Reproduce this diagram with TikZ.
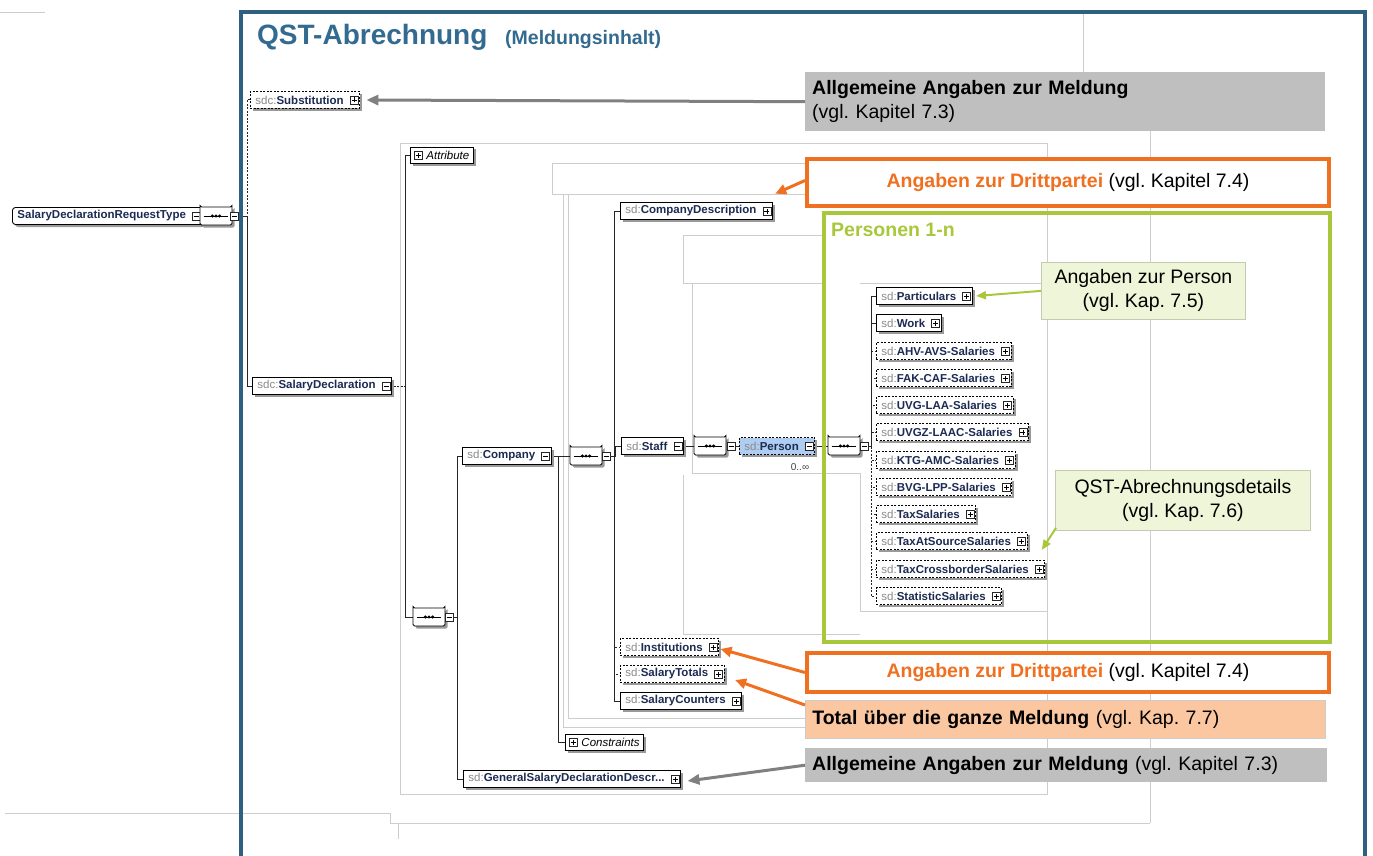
\documentclass[tikz,border=0pt]{standalone}
\usepackage{fontspec}
\setmainfont{Liberation Sans}
\usetikzlibrary{arrows.meta,shapes.misc,shadows}

\definecolor{frameblue}{HTML}{2F5F81}
\definecolor{titleblue}{HTML}{336A90}
\definecolor{orng}{HTML}{F07021}
\definecolor{lgreen}{HTML}{A9C73A}
\definecolor{notegreen}{HTML}{EEF5D8}
\definecolor{notegreenline}{HTML}{C4CBB0}
\definecolor{peach}{HTML}{FBC7A1}
\definecolor{boxgray}{HTML}{BFBFBF}
\definecolor{arrowgray}{HTML}{808080}
\definecolor{rulec}{HTML}{CDCDCD}
\definecolor{pfx}{HTML}{8A8A8A}
\definecolor{ename}{HTML}{1C2B52}
\definecolor{personfill}{HTML}{AFCDF0}

\pgfdeclarelayer{bg}
\pgfsetlayers{bg,main}
\frenchspacing

% element label: grey namespace prefix, bold local name
\newcommand\qn[2]{{\color{pfx}#1:}{\bfseries #2}}
% expand / collapse button (p = plus, m = minus)
\newcommand\xp[3]{%
  \node[xbox] (#1) at (#2) {};
  \draw[xsign] ([xshift=-2.5pt]#1.center) -- ([xshift=2.5pt]#1.center);
  \ifx p#3\draw[xsign] ([yshift=-2.5pt]#1.center) -- ([yshift=2.5pt]#1.center);\fi}
% sequence compositor symbol
\newcommand\sq[2]{%
  \node[seqbox] (#1) at (#2) {};
  \draw[line width=0.9pt] ([xshift=4pt]#1.west) -- ([xshift=-4pt]#1.east);
  \foreach \d in {-3.6,0,3.6} \fill ([xshift=\d pt]#1.center) circle (1.7pt);}

\tikzset{
  x=1pt, y=-1pt,
  shade/.style={drop shadow={shadow xshift=2.5pt, shadow yshift=-2.5pt, fill=black!40, opacity=1}},
  elem/.style={draw=black, line width=0.9pt, fill=white, anchor=west, inner xsep=5pt,
    inner ysep=0pt, minimum height=17pt, text=ename, shade,
    font=\fontsize{11.5}{13}\selectfont, execute at end node=\hspace{11pt}},
  opt/.style={elem, dash pattern=on 2pt off 1.5pt},
  grp/.style={draw=black, line width=0.9pt, fill=white, anchor=west, inner xsep=4pt,
    inner ysep=0pt, minimum height=16pt, shade, font=\fontsize{11.5}{13}\selectfont\itshape,
    execute at begin node=\hspace{12pt}},
  xbox/.style={draw=black!85, fill=white, minimum size=8pt, inner sep=0pt, line width=0.6pt},
  xsign/.style={line width=0.6pt, black},
  seqbox/.style={chamfered rectangle, chamfered rectangle xsep=4pt, draw=black, line width=0.9pt,
    fill=white, minimum width=32pt, minimum height=18pt, inner sep=0pt, rounded corners=1.5pt, shade},
  tree/.style={draw=black!85, line width=1pt},
  otree/.style={tree, dash pattern=on 2pt off 1.5pt},
  rule/.style={draw=rulec, line width=0.8pt},
  note/.style={font=\fontsize{19.5}{24}\selectfont, inner xsep=7pt, inner ysep=0pt},
  garrow/.style={draw=arrowgray, line width=3pt, -{Triangle[length=12pt,width=10pt]}},
  oarrow/.style={draw=orng, line width=3pt, -{Triangle[length=11pt,width=10pt]}},
  larrow/.style={draw=lgreen, line width=2pt, -{Triangle[length=10pt,width=8pt]}},
}

\begin{document}
\begin{tikzpicture}
\useasboundingbox (0,0) rectangle (1373,856);

% ---------- schema tree ----------
\node[elem, rounded corners=3pt, execute at end node=\hspace{5pt}] (srt) at (12,216) {\bfseries SalaryDeclarationRequestType};
\xp{srt-x}{196,216}{m}
\sq{seq0}{216,216}
\xp{seq0-x}{234,216}{m}

\node[opt] (subst) at (250,100) {\qn{sdc}{Substitution}};
\xp{subst-x}{[xshift=-6pt]subst.east}{p}
\node[elem] (sdecl) at (252,386) {\qn{sdc}{SalaryDeclaration}};
\xp{sdecl-x}{[xshift=-6pt]sdecl.east}{m}
\coordinate (bus1) at (405,386);

\node[grp] (attr) at (410,155) {Attribute};
\xp{attr-x}{[xshift=8pt]attr.west}{p}
\sq{seq1}{429,617}
\xp{seq1-x}{449,617}{m}

\node[elem] (company) at (462,456) {\qn{sd}{Company}};
\xp{company-x}{[xshift=-6pt]company.east}{m}
\node[grp] (constraints) at (565,742) {Constraints};
\xp{constraints-x}{[xshift=8pt]constraints.west}{p}
\node[elem] (gdesc) at (463,779) {\qn{sd}{GeneralSalaryDeclarationDescr...}};
\xp{gdesc-x}{[xshift=-6pt]gdesc.east}{p}

\sq{seq2}{586,456}
\xp{seq2-x}{606,456}{m}
\node[elem] (cdesc) at (620,211) {\qn{sd}{CompanyDescription}};
\xp{cdesc-x}{[xshift=-6pt]cdesc.east}{p}
\node[elem] (staff) at (621,446) {\qn{sd}{Staff}};
\xp{staff-x}{[xshift=-6pt]staff.east}{m}
\node[opt] (inst) at (620,647) {\qn{sd}{Institutions}};
\xp{inst-x}{[xshift=-6pt]inst.east}{p}
\node[opt] (totals) at (620,674) {\qn{sd}{SalaryTotals}};
\xp{totals-x}{[xshift=-6pt]totals.east}{p}
\node[elem] (counters) at (620,701) {\qn{sd}{SalaryCounters}};
\xp{counters-x}{[xshift=-6pt]counters.east}{p}

\sq{seq3}{710,446}
\xp{seq3-x}{731,446}{m}
\node[opt, fill=personfill] (person) at (739,446) {\qn{sd}{Person}};
\xp{person-x}{[xshift=-6pt]person.east}{m}
\node[font=\fontsize{10}{12}\selectfont, text=black!75] (card) at (800,467) {0..∞};
\sq{seq4}{844,446}
\xp{seq4-x}{864,446}{m}

\node[elem] (c1) at (876,296) {\qn{sd}{Particulars}};
\node[elem] (c2) at (876,323) {\qn{sd}{Work}};
\node[opt] (c3) at (876,351) {\qn{sd}{AHV-AVS-Salaries}};
\node[opt] (c4) at (876,378) {\qn{sd}{FAK-CAF-Salaries}};
\node[opt] (c5) at (876,405) {\qn{sd}{UVG-LAA-Salaries}};
\node[opt] (c6) at (876,432) {\qn{sd}{UVGZ-LAAC-Salaries}};
\node[opt] (c7) at (876,460) {\qn{sd}{KTG-AMC-Salaries}};
\node[opt] (c8) at (876,487) {\qn{sd}{BVG-LPP-Salaries}};
\node[opt] (c9) at (876,514) {\qn{sd}{TaxSalaries}};
\node[opt] (c10) at (876,541) {\qn{sd}{TaxAtSourceSalaries}};
\node[opt] (c11) at (876,569) {\qn{sd}{TaxCrossborderSalaries}};
\node[opt] (c12) at (876,596) {\qn{sd}{StatisticSalaries}};
\foreach \i in {1,...,12} {\xp{c\i-x}{[xshift=-6pt]c\i.east}{p}}

\begin{pgfonlayer}{bg}
  % faint layout rules
  \draw[rule] (0,12) -- (45,12);
  \draw[rule] (1083,11) -- (1083,72);
  \draw[rule] (400,143) rectangle (1047,794);
  \draw[rule] (552,163) rectangle (805,194);
  \draw[rule] (568,194) -- (568,718) -- (805,718);
  \draw[rule] (563,194) -- (563,727) -- (805,727);
  \draw[rule] (683,235) -- (822,235);
  \draw[rule] (683,235) -- (683,283) -- (822,283);
  \draw[rule] (692,283) -- (692,473) -- (860,473);
  \draw[rule] (683,475) -- (683,634) -- (860,634);
  \draw[rule] (860,283) -- (1047,283);
  \draw[rule] (860,473) -- (860,611) -- (1047,611);
  \draw[rule] (1150,131) -- (1150,823);
  \draw[rule] (5,813) -- (390,813) -- (390,823) -- (1150,823);
  \draw[rule] (398,823) -- (398,839);

  % tree connectors
  \draw[tree] (srt-x.east) -- (seq0.west);
  \draw[tree] (seq0-x.east) -| ([xshift=-5pt]sdecl.west) -- (sdecl.west);
  \draw[otree] (seq0-x.east) -| ([xshift=-3pt]subst.west) -- (subst.west);
  \draw[otree] (sdecl-x.east) -- (bus1);
  \draw[tree] (bus1) |- (attr.west);
  \draw[tree] (bus1) |- (seq1.west);
  \draw[tree] (seq1-x.east) -| ([xshift=-5pt]company.west) -- (company.west);
  \draw[tree] (seq1-x.east) -| ([xshift=-6pt]gdesc.west) -- (gdesc.west);
  \draw[tree] (company-x.east) -| ([xshift=-7pt]constraints.west) -- (constraints.west);
  \draw[tree] (company-x.east) -- (seq2.west);
  \foreach \c in {cdesc,staff,counters}
    \draw[tree] (seq2-x.east) -| ([xshift=-6pt]\c.west) -- (\c.west);
  \foreach \c in {inst,totals}
    \draw[otree] (seq2-x.east) -| ([xshift=-6pt]\c.west) -- (\c.west);
  \draw[tree] (staff-x.east) -- (seq3.west);
  \draw[tree] (seq3-x.east) -- (person.west);
  \draw[tree] (person-x.east) -- (seq4.west);
  \foreach \i in {1,2}
    \draw[tree] (seq4-x.east) -| ([xshift=-5pt]c\i.west) -- (c\i.west);
  \foreach \i in {3,...,12}
    \draw[otree] (seq4-x.east) -| ([xshift=-5pt]c\i.west) -- (c\i.west);
\end{pgfonlayer}

% ---------- outer frame and title ----------
\draw[frameblue, line width=4pt] (241,858) -- (241,12) -- (1365,12) -- (1365,858);
\node[anchor=base west, inner sep=0pt, text=titleblue, font=\bfseries\fontsize{28}{30}\selectfont] (title) at (257,45) {QST-Abrechnung};
\node[anchor=base west, inner sep=0pt, text=titleblue, font=\bfseries\fontsize{19.5}{22}\selectfont] (subtitle) at (505,45) {(Meldungsinhalt)};

% ---------- annotations ----------
\node[note, fill=boxgray, anchor=north west, text width=506pt, minimum height=59pt, align=left] (allg1) at (805,72)
  {\textbf{Allgemeine Angaben zur Meldung}\\(vgl. Kapitel 7.3)};
\draw[garrow] (allg1.west) -- ([xshift=8pt]subst-x.east);

\node[note, draw=orng, line width=4pt, fill=white, anchor=north west, minimum width=522pt, minimum height=47pt] (dritt1) at (805,157)
  {{\color{orng}\bfseries Angaben zur Drittpartei} (vgl. Kapitel 7.4)};
\draw[oarrow] ([yshift=2pt]dritt1.west) -- ([shift={(4pt,13pt)}]cdesc-x.north east);

\node[draw=lgreen, line width=4pt, anchor=north west, minimum width=506pt, minimum height=429pt] (personen) at (822,211) {};
\node[anchor=west, inner sep=0pt, text=lgreen, font=\bfseries\fontsize{19.5}{22}\selectfont] (personen-lbl) at (831,230) {Personen 1-n};

\node[note, draw=notegreenline, line width=0.8pt, fill=notegreen, anchor=north west, minimum width=204pt, minimum height=57pt, align=center] (notep) at (1041,262)
  {Angaben zur Person\\(vgl. Kap. 7.5)};
\draw[larrow] (notep.west) -- ([xshift=5pt]c1-x.east);

\node[note, draw=notegreenline, line width=0.8pt, fill=notegreen, anchor=north west, minimum width=255pt, minimum height=60pt, align=center] (noted) at (1055,470)
  {QST-Abrechnungsdetails\\(vgl. Kap. 7.6)};
\draw[larrow] ([shift={(1pt,3pt)}]noted.south west) -- ([shift={(16pt,-9pt)}]c10-x.east);

\node[note, draw=orng, line width=4pt, fill=white, anchor=north west, minimum width=522pt, minimum height=39pt] (dritt2) at (805,651)
  {{\color{orng}\bfseries Angaben zur Drittpartei} (vgl. Kapitel 7.4)};
\draw[oarrow] (dritt2.west) -- ([shift={(3pt,-2pt)}]inst-x.east);

\node[note, draw=black!20, line width=0.6pt, fill=peach, anchor=north west, text width=506pt, minimum height=38pt, align=left] (total) at (805,700)
  {\textbf{Total über die ganze Meldung} (vgl. Kap. 7.7)};
\draw[oarrow] ([yshift=-5pt]total.north west) -- ([shift={(12pt,-6pt)}]totals-x.east);

\node[note, fill=boxgray, anchor=north west, text width=508pt, minimum height=34pt, align=left] (allg2) at (805,748)
  {\textbf{Allgemeine Angaben zur Meldung} (vgl. Kapitel 7.3)};
\draw[garrow] (allg2.west) -- ([shift={(8pt,-2pt)}]gdesc-x.east);

\end{tikzpicture}
\end{document}
